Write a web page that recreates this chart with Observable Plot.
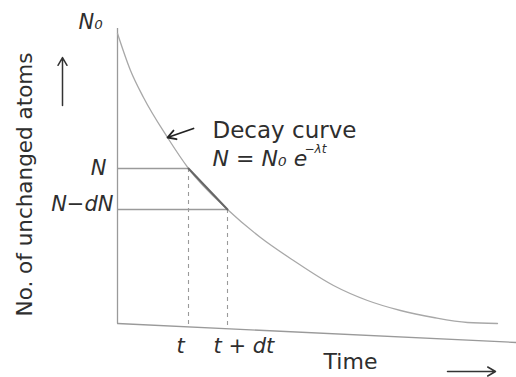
<!DOCTYPE html>
<html>
<head>
<meta charset="utf-8">
<script src="https://cdn.jsdelivr.net/npm/d3@7"></script>
<script src="https://cdn.jsdelivr.net/npm/@observablehq/plot@0.6"></script>
<style>
  body { margin: 0; background: #fff; }
</style>
</head>
<body>
<div id="chart"></div>
<script>
// Decay curve: number of unchanged atoms N against time t (arbitrary units)
const curveT = [0, 13, 26, 50, 71, 110, 143, 176, 216, 250, 283, 316, 350, 380];
const curveN = [292, 255, 228, 188, 157, 116, 88, 65, 40, 25, 15, 8, 3, 2];

// The interval t .. t + dt and the matching levels N .. N - dN
const markT = [71, 110];
const markN = [157, 116];
const tickLabels = ["t", "t + dt"];
const levelLabels = ["N", "N\u2212dN"];

// Axis line ends (the time axis leans slightly downward)
const axisT = [0, 399];
const axisN = [2, -17];
const yAxisTop = 297;

const curve = curveT.map((t, i) => ({t, n: curveN[i]}));
const axisAt = t => axisN[0] + (axisN[1] - axisN[0]) * t / axisT[1];
const ink = "#2e2e2e";
const pencil = "#9a9a9a";
const font = "DejaVu Sans, Verdana, sans-serif";

const chart = Plot.plot({
  width: 516,
  height: 377,
  margin: 0,
  x: {domain: [-117, 399], axis: null},
  y: {domain: [-52, 325], axis: null},
  style: {fontFamily: font, color: ink, background: "#fff"},
  marks: [
    // axes
    Plot.ruleX([0], {y1: axisN[0], y2: yAxisTop, stroke: pencil, strokeWidth: 1.3}),
    Plot.line(axisT.map((t, i) => ({t, n: axisN[i]})), {x: "t", y: "n", stroke: pencil, strokeWidth: 1.3}),

    // levels N and N - dN
    Plot.ruleY(markN, {x1: 0, x2: (d, i) => markT[i], stroke: pencil, strokeWidth: 1.4}),
    // drop lines at t and t + dt
    Plot.ruleX(markT, {
      y1: (d, i) => markN[i],
      y2: (d, i) => axisAt(markT[i]),
      stroke: pencil, strokeWidth: 1.1, strokeDasharray: "4,4"
    }),

    // the decay curve
    Plot.line(curve, {x: "t", y: "n", curve: "monotone-x", stroke: "#a8a8a8", strokeWidth: 1.3}),
    // chord between the two marked points
    Plot.line(markT.map((t, i) => ({t, n: markN[i]})), {x: "t", y: "n", stroke: "#666", strokeWidth: 2}),

    // level labels
    Plot.text(["N\u2080"], {x: -27, y: 303, fontStyle: "italic", fontSize: 21, fill: ink}),
    Plot.text(levelLabels, {x: (d, i) => [-11, -4][i], y: (d, i) => [157, 121][i], textAnchor: "end", fontStyle: "italic", fontSize: 21, fill: ink}),

    // tick labels on the time axis
    Plot.text([tickLabels[0]], {x: 63, y: -21, fontStyle: "italic", fontSize: 21, fill: ink}),
    Plot.text([tickLabels[1]], {x: 96, y: -21, textAnchor: "start", fontStyle: "italic", fontSize: 21, fill: ink}),

    // curve annotation
    Plot.text(["Decay curve"], {x: 95, y: 195, textAnchor: "start", fontSize: 23, fill: ink}),
    Plot.text(["N = N\u2080 e"], {x: 95, y: 167, textAnchor: "start", fontStyle: "italic", fontSize: 22, fill: ink}),
    Plot.text(["\u2212\u03bbt"], {x: 187, y: 176, textAnchor: "start", fontStyle: "italic", fontSize: 12, fill: ink}),
    Plot.arrow([0], {x1: 76, y1: 197, x2: 50, y2: 188, stroke: "#222", strokeWidth: 1.8, headLength: 9}),

    // axis titles
    Plot.text(["No. of unchanged atoms"], {x: -92, y: 141, rotate: -90, fontSize: 21.5, fill: ink}),
    Plot.arrow([0], {x1: -55, y1: 220, x2: -55, y2: 268, stroke: "#333", strokeWidth: 1.5, headLength: 9}),
    Plot.text(["Time"], {x: 233, y: -36, fontSize: 22, fill: ink}),
    Plot.arrow([0], {x1: 330, y1: -46, x2: 378, y2: -46, stroke: "#333", strokeWidth: 1.5, headLength: 9})
  ]
});

document.getElementById("chart").appendChild(chart);
</script>
</body>
</html>
